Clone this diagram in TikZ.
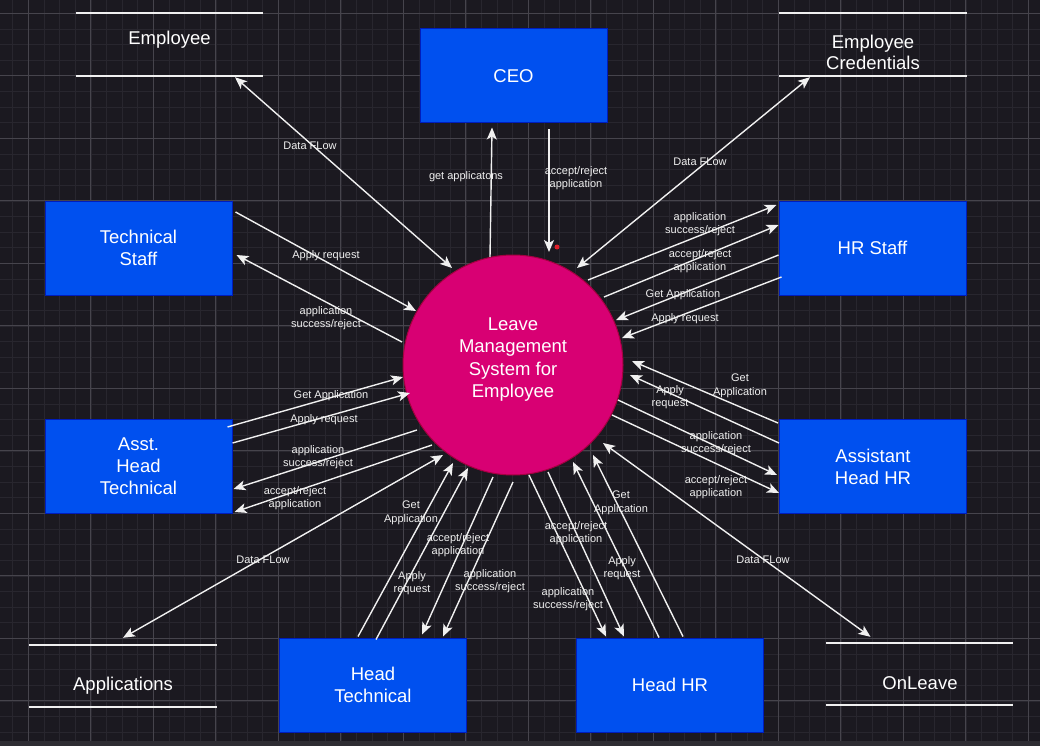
\documentclass[tikz,border=0pt]{standalone}
\usepackage{fontspec}
\setmainfont{Liberation Sans}
\usetikzlibrary{arrows.meta,calc}
\definecolor{bgcol}{HTML}{1B1920}
\definecolor{minorgrid}{HTML}{28262E}
\definecolor{majorgrid}{HTML}{46444C}
\definecolor{boxfill}{HTML}{0050EF}
\definecolor{boxdraw}{HTML}{001DBC}
\definecolor{circfill}{HTML}{D80073}
\definecolor{circdraw}{HTML}{A50040}
\definecolor{linecol}{HTML}{F0F0F0}
\definecolor{bandcol}{HTML}{2E2D33}
\definecolor{dotred}{HTML}{E0202A}
\tikzset{
  box/.style={rectangle, draw=boxdraw, fill=boxfill, line width=1pt, minimum width=187pt, minimum height=94pt, inner sep=0pt, text=white, align=center, font=\fontsize{18.5}{22}\selectfont},
  proc/.style={circle, draw=circdraw, fill=circfill, line width=1pt, minimum size=220pt, inner sep=0pt},
  proctext/.style={text=white, align=center, inner sep=0pt, font=\fontsize{18.5}{22.2}\selectfont},
  store/.style={rectangle, minimum width=187pt, minimum height=63pt, inner sep=0pt},
  storeline/.style={draw=linecol, line width=1.5pt},
  storetext/.style={text=white, align=center, inner sep=0pt, font=\fontsize{18.5}{21.5}\selectfont},
  dflow/.style={draw=linecol, line width=1.4pt, >={Stealth[length=12pt,width=10pt,inset=3pt]}},
  lbl/.style={text=linecol, align=center, inner sep=0pt, font=\fontsize{11}{13.5}\selectfont},
  minorline/.style={draw=minorgrid, line width=0.6pt},
  majorline/.style={draw=majorgrid, line width=0.8pt}
}
\begin{document}
\begin{tikzpicture}[x=1pt,y=-1pt]
\useasboundingbox (0,0) rectangle (1040,746);
\fill[bgcol] (0,0) rectangle (1040,746);
\foreach \i in {-1,...,65} \draw[minorline] ({28.3+15.625*\i},0) -- ({28.3+15.625*\i},746);
\foreach \i in {-1,...,47} \draw[minorline] (0,{13.3+15.625*\i}) -- (1040,{13.3+15.625*\i});
\foreach \i in {0,...,16} \draw[majorline] ({28.3+62.5*\i},0) -- ({28.3+62.5*\i},746);
\foreach \i in {0,...,11} \draw[majorline] (0,{13.3+62.5*\i}) -- (1040,{13.3+62.5*\i});
\fill[bandcol] (0,741) rectangle (1040,746);

% process
\node[proc] (c) at (513,365) {};
\node[proctext] (ct) at (513,359.5) {Leave\\Management\\System for\\Employee};

% entities
\node[box] (ceo) at (513.5,76) {CEO};
\node[box] (tech) at (138.5,248) {Technical\\Staff};
\node[box] (hrs) at (872.5,248) {HR Staff};
\node[box] (aht) at (138.5,466.5) {Asst.\\Head\\Technical};
\node[box] (ahhr) at (873,466.5) {Assistant\\Head HR};
\node[box] (ht) at (373,685) {Head\\Technical};
\node[box] (hhr) at (670,685) {Head HR};

% data stores
\node[store] (emp) at (169.5,44.5) {};
\node[store] (cred) at (873,44.5) {};
\node[store, minimum height=62pt] (apps) at (123,676) {};
\node[store, minimum height=62pt] (onl) at (919.5,674) {};
\foreach \s in {emp,cred,apps,onl} {
  \draw[storeline] (\s.north west) -- (\s.north east);
  \draw[storeline] (\s.south west) -- (\s.south east);
}
\node[storetext] (empt) at ($(emp)+(0,-4.5)$) {Employee};
\node[storetext] (credt) at ($(cred)+(0,8)$) {Employee\\Credentials};
\node[storetext] (appst) at ($(apps)+(0,9.5)$) {Applications};
\node[storetext] (onlt) at ($(onl)+(0.5,9)$) {OnLeave};

% data flows to stores
\draw[dflow,<->] ($(emp.south)+(65.5,1)$) -- ($(c)+(-61,-97)$) node[lbl] (l1) at (310,146) {Data FLow};
\draw[dflow,<->] ($(c)+(64,-97)$) -- ($(cred.south)+(-63,1)$) node[lbl] (l4) at (700,162) {Data FLow};
\draw[dflow,<->] ($(c)+(-70,90)$) -- ($(apps.north)+(0,-7)$) node[lbl] (l15) at (263,560) {Data FLow};
\draw[dflow,<->] ($(c)+(90,78)$) -- ($(onl.north)+(-49,-6)$) node[lbl] (l24) at (763,560) {Data FLow};

% CEO
\draw[dflow,->] ($(c)+(-23,-108)$) -- ($(ceo.south)+(-21.5,4)$) node[lbl] (l2) at (466,177) {get applicatons};
\draw[dflow,->] ($(ceo.south)+(35.5,6)$) -- ($(c)+(36,-113)$) node[lbl] (l3) at (576,178) {accept/reject\\application};
\fill[dotred] ($(c)+(44,-118)$) circle (2.5pt);

% HR Staff
\draw[dflow,->] ($(c)+(75,-85)$) -- ($(hrs.west)+(-2,-43)$) node[lbl] (l5) at (700,224) {application\\success/reject};
\draw[dflow,->] ($(c)+(91,-68)$) -- ($(hrs.west)+(0,-23)$) node[lbl] (l6) at (700,261) {accept/reject\\application};
\draw[dflow,->] ($(hrs.west)+(0,7)$) -- ($(c)+(103,-45)$) node[lbl] (l7) at (683,295) {Get Application};
\draw[dflow,->] ($(hrs.west)+(3,29)$) -- ($(c)+(109,-27)$) node[lbl] (l8) at (685,319) {Apply request};

% Technical Staff
\draw[dflow,->] ($(tech.east)+(3,-36)$) -- ($(c)+(-97,-54)$) node[lbl] (l9) at (326,256) {Apply request};
\draw[dflow,->] ($(c)+(-111,-23)$) -- ($(tech.east)+(4,7)$) node[lbl] (l10) at (326,318) {application\\success/reject};

% Asst. Head Technical
\draw[dflow,->] ($(aht.east)+(-5,-39.5)$) -- ($(c)+(-110,12)$) node[lbl] (l11) at (331,396) {Get Application};
\draw[dflow,->] ($(aht.east)+(0,-23.5)$) -- ($(c)+(-103,28)$) node[lbl] (l12) at (324,420) {Apply request};
\draw[dflow,->] ($(c)+(-96,65)$) -- ($(aht.east)+(1,22.5)$) node[lbl] (l13) at (318,457) {application\\success/reject};
\draw[dflow,->] ($(c)+(-81,80)$) -- ($(aht.east)+(2,45.5)$) node[lbl] (l14) at (295,498) {accept/reject\\application};

% Head Technical
\draw[dflow,->] ($(ht.north)+(-15,-1)$) -- ($(c)+(-60,98)$) node[lbl] (l16) at (411,513) {Get\\Application};
\draw[dflow,->] ($(ht.north)+(3,2)$) -- ($(c)+(-45,103)$) node[lbl] (l17) at (412,583) {Apply\\request};
\draw[dflow,->] ($(c)+(-20,112)$) -- ($(ht.north)+(49,-3)$) node[lbl] (l18) at (458,545) {accept/reject\\application};
\draw[dflow,->] ($(c)+(0,117)$) -- ($(ht.north)+(70,-1)$) node[lbl] (l19) at (490,581) {application\\success/reject};

% Head HR
\draw[dflow,->] ($(c)+(16,110)$) -- ($(hhr.north)+(-64,-1)$) node[lbl] (l20) at (576,533) {accept/reject\\application};
\draw[dflow,->] ($(c)+(35,107)$) -- ($(hhr.north)+(-46,-1)$) node[lbl] (l21) at (568,599) {application\\success/reject};
\draw[dflow,->] ($(hhr.north)+(-11,0)$) -- ($(c)+(60,97)$) node[lbl] (l22) at (621,503) {Get\\Application};
\draw[dflow,->] ($(hhr.north)+(13,-1)$) -- ($(c)+(80,90)$) node[lbl] (l23) at (622,568) {Apply\\request};

% Assistant Head HR
\draw[dflow,->] ($(ahhr.west)+(-1,-43.5)$) -- ($(c)+(119,-4)$) node[lbl] (l25) at (740,386) {Get\\Application};
\draw[dflow,->] ($(ahhr.west)+(0,-23.5)$) -- ($(c)+(117,10)$) node[lbl] (l26) at (670,397) {Apply\\request};
\draw[dflow,->] ($(c)+(105,35)$) -- ($(ahhr.west)+(-2,8.5)$) node[lbl] (l27) at (716,443) {application\\success/reject};
\draw[dflow,->] ($(c)+(99,50)$) -- ($(ahhr.west)+(0,26.5)$) node[lbl] (l28) at (716,487) {accept/reject\\application};
\end{tikzpicture}
\end{document}
